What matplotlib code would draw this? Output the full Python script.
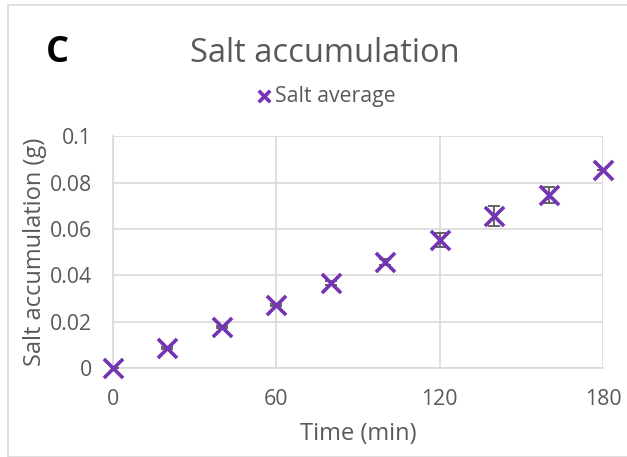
import matplotlib.pyplot as plt
import matplotlib.ticker as mticker
from matplotlib.patches import Rectangle

# Salt accumulation over time
time_min = [0, 20, 40, 60, 80, 100, 120, 140, 160, 180]
salt_avg = [0.0, 0.0086, 0.0177, 0.0272, 0.0366, 0.0457, 0.0552, 0.0655, 0.0746, 0.0856]
salt_err = [0.0, 0.0005, 0.0005, 0.0005, 0.001, 0.0015, 0.0032, 0.0042, 0.0036, 0.0]

x_ticks = [0, 60, 120, 180]
y_ticks = [0, 0.02, 0.04, 0.06, 0.08, 0.1]

purple = "#7434B4"
grey_text = "#595959"
grid_col = "#D9D9D9"

plt.rcParams['font.family'] = ['Open Sans', 'DejaVu Sans']

fig = plt.figure(figsize=(6.27, 4.57), dpi=100)
ax = fig.add_axes([0.180, 0.195, 0.782, 0.507])

# chart outline
fig.patches.append(Rectangle((8 / 627, 0), 1, 1 - 5 / 457, transform=fig.transFigure,
                             fill=False, edgecolor="#D9D9D9", linewidth=1.2))

ax.errorbar(time_min, salt_avg, yerr=salt_err, fmt="none", ecolor=grey_text,
            elinewidth=1.3, capsize=4, capthick=1.3, zorder=3)
ax.scatter(time_min, salt_avg, marker="x", s=190, color=purple, linewidths=2.6,
           zorder=4, label="Salt average", clip_on=False)

ax.set_xlim(0, 180)
ax.set_ylim(0, 0.1)
ax.set_xticks(x_ticks)
ax.set_yticks(y_ticks)
ax.yaxis.set_major_formatter(mticker.FuncFormatter(lambda v, p: f"{v:g}"))
ax.grid(True, color=grid_col, linewidth=1.2)
ax.set_axisbelow(True)
ax.tick_params(length=0, labelsize=15.3, colors=grey_text)
ax.tick_params(axis="x", pad=15)
ax.tick_params(axis="y", pad=15)
for side in ["top", "right"]:
    ax.spines[side].set_visible(False)
for side in ["left", "bottom"]:
    ax.spines[side].set_color(grid_col)
    ax.spines[side].set_linewidth(1.2)

ax.set_xlabel("Time (min)", fontsize=17, color=grey_text, labelpad=9)
ax.set_ylabel("Salt accumulation (g)", fontsize=17, color=grey_text, labelpad=2)

fig.text(0.518, 0.882, "Salt accumulation", ha="center", va="center",
         fontsize=23.5, color=grey_text)
fig.text(0.092, 0.884, "C", ha="center", va="center", fontsize=26,
         fontweight="bold", color="black")

leg = fig.legend(loc="center", bbox_to_anchor=(0.518, 0.789), frameon=False,
                 fontsize=15.3, handletextpad=0.0, handlelength=1.0,
                 markerscale=0.6)
for t in leg.get_texts():
    t.set_color(grey_text)

fig.savefig("out.png", dpi=100)
